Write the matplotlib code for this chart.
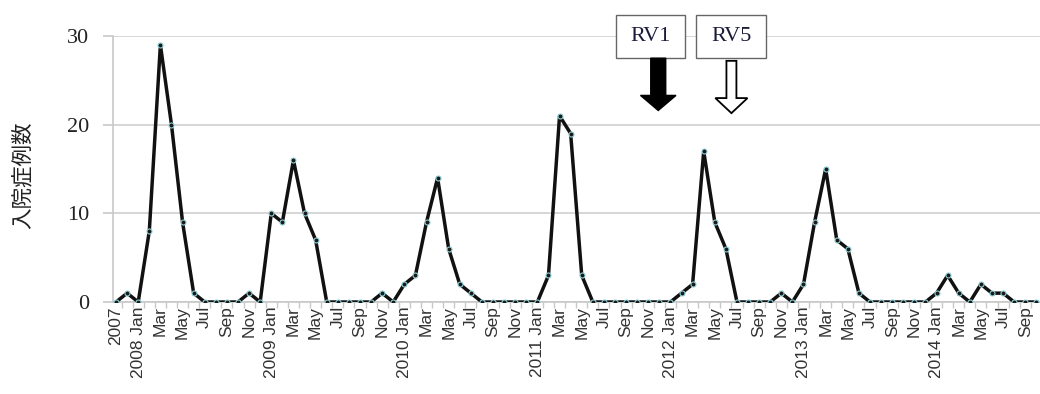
import numpy as np
import matplotlib
matplotlib.use("Agg")
import matplotlib.pyplot as plt
from matplotlib.patches import Rectangle, FancyArrow

# monthly hospitalised cases, Nov 2007 .. Oct 2014
c2007 = [0, 1]  # Nov, Dec
c2008 = [0, 8, 29, 20, 9, 1, 0, 0, 0, 0, 1, 0]
c2009 = [10, 9, 16, 10, 7, 0, 0, 0, 0, 0, 1, 0]
c2010 = [2, 3, 9, 14, 6, 2, 1, 0, 0, 0, 0, 0]
c2011 = [0, 3, 21, 19, 3, 0, 0, 0, 0, 0, 0, 0]
c2012 = [0, 1, 2, 17, 9, 6, 0, 0, 0, 0, 1, 0]
c2013 = [2, 9, 15, 7, 6, 1, 0, 0, 0, 0, 0, 0]
c2014 = [1, 3, 1, 0, 2, 1, 1, 0, 0, 0]  # Jan..Oct

counts = c2007 + c2008 + c2009 + c2010 + c2011 + c2012 + c2013 + c2014

# labels on every second month
tick_labels = ["2007"]
for yr in ["2008", "2009", "2010", "2011", "2012", "2013", "2014"]:
    tick_labels += [yr + " Jan", "Mar", "May", "Jul", "Sep", "Nov"]
tick_labels = tick_labels[:42]

# vaccine introduction marks (label, box centre, arrow position, filled)
vaccines = [("RV1", 48.2, 48.9, True), ("RV5", 55.5, 55.5, False)]

x = np.arange(len(counts))

fig = plt.figure(figsize=(10.4, 3.94), dpi=100)
ax = fig.add_axes([0.1087, 0.2335, 0.8913, 0.6751])

ax.plot(x, counts, color="#111111", linewidth=2.5, marker="o", markersize=3.6,
        markerfacecolor="#1a1a1a", markeredgecolor="#8fd0d6", markeredgewidth=0.8,
        zorder=3)

ax.set_xlim(-0.27, 83.33)
ax.set_ylim(0, 30)
ax.set_yticks([0, 10, 20, 30])
ax.yaxis.grid(True, color="#cfcfcf", linewidth=1.2)
ax.set_axisbelow(True)

for s in ["top", "right"]:
    ax.spines[s].set_visible(False)
for s in ["left", "bottom"]:
    ax.spines[s].set_color("#c8c8c8")
    ax.spines[s].set_linewidth(1.2)

ax.tick_params(axis="y", length=7.2, width=1.2, color="#c8c8c8", pad=10,
               labelsize=16, labelcolor="#222222")
for lab in ax.get_yticklabels():
    lab.set_fontfamily("Liberation Serif")

ax.set_xticks(x[::2][:len(tick_labels)])
ax.set_xticklabels(tick_labels, rotation=90, fontsize=12.5,
                   fontfamily="Liberation Sans", color="#333333")
ax.set_xticks(x[:-1] + 0.5, minor=True)
ax.tick_params(axis="x", which="major", length=0, pad=3)
ax.tick_params(axis="x", which="minor", length=4, width=1, color="#c8c8c8")

ax.set_ylabel("入院症例数", fontfamily=["Noto Sans CJK JP", "DejaVu Sans"],
              fontsize=15.5, color="#222222")
ax.yaxis.set_label_coords(-0.086, 0.477)

# RV1 / RV5 boxes and arrows
for name, bx, arr_x, filled in vaccines:
    ax.add_patch(Rectangle((bx - 3.15, 27.5), 6.3, 4.85, facecolor="white",
                           edgecolor="#666666", linewidth=1.0, clip_on=False,
                           zorder=5))
    ax.text(bx, 29.9, name, ha="center", va="center", fontsize=16,
            fontfamily="Liberation Serif", color="#1c1c3a", zorder=6,
            clip_on=False)
    if filled:
        arr = FancyArrow(arr_x, 27.5, 0, -5.9, width=1.35, head_width=3.2,
                         head_length=1.7, length_includes_head=True,
                         facecolor="black", edgecolor="black", linewidth=1)
    else:
        arr = FancyArrow(arr_x, 27.2, 0, -5.9, width=0.9, head_width=2.9,
                         head_length=1.7, length_includes_head=True,
                         facecolor="white", edgecolor="black", linewidth=1.3)
    arr.set_clip_on(False)
    arr.set_zorder(5)
    ax.add_patch(arr)

fig.savefig("out.png", dpi=100)
